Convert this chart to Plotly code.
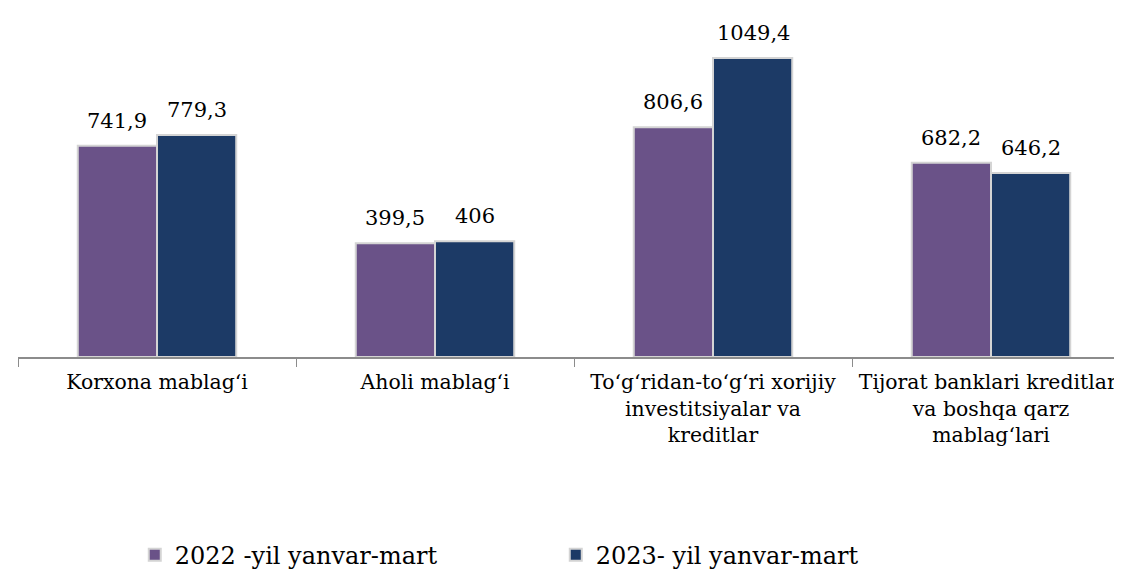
import plotly.graph_objects as go

categories = ["Korxona mablag‘i", "Aholi mablag‘i",
              "To‘g‘ridan-to‘g‘ri xorijiy<br>investitsiyalar va<br>kreditlar",
              "Tijorat banklari kreditlari<br>va boshqa qarz<br>mablag‘lari"]
series_2022 = [741.9, 399.5, 806.6, 682.2]
series_2023 = [779.3, 406, 1049.4, 646.2]
series_names = ["2022 -yil yanvar-mart", "2023- yil yanvar-mart"]
colors = ["#6A5288", "#1C3A66"]

def fmt(v):
    return f"{v:g}".replace(".", ",")

font = "DejaVu Serif"

fig = go.Figure()
for name, vals, col in zip(series_names, [series_2022, series_2023], colors):
    fig.add_trace(go.Bar(
        x=categories, y=vals, name=name,
        marker=dict(color=col, line=dict(color="#d4d4d4", width=2)),
    ))

annotations = []
for shift, vals in zip([-40, 40], [series_2022, series_2023]):
    for c, v in zip(categories, vals):
        annotations.append(dict(x=c, y=v, xref="x", yref="y", text=fmt(v),
                                showarrow=False, yanchor="bottom", xshift=shift, yshift=11,
                                font=dict(family=font, size=21, color="#000")))

fig.update_layout(
    width=1122, height=587,
    margin=dict(l=10, r=0, t=0, b=238, autoexpand=False),
    paper_bgcolor="white", plot_bgcolor="white",
    barmode="group", bargap=0.43, bargroupgap=0.0,
    font=dict(family=font, size=21, color="#000"),
    showlegend=True,
    annotations=annotations,
    legend=dict(orientation="h", x=0.105, xanchor="left", y=0.068, yref="container",
                yanchor="middle", entrywidth=376, entrywidthmode="pixels",
                font=dict(family=font, size=24, color="#000"),
                itemwidth=30, traceorder="normal"),
)
fig.update_xaxes(showline=True, linecolor="#8c8c8c", linewidth=1.5,
                 ticks="outside", tickson="boundaries", ticklen=8, tickcolor="#8c8c8c",
                 tickangle=0, ticklabelstandoff=6,
                 tickfont=dict(family=font, size=20.4, color="#000"), showgrid=False)
fig.update_yaxes(visible=False, range=[0, 1225], showgrid=False)

fig.write_html("out.html")
